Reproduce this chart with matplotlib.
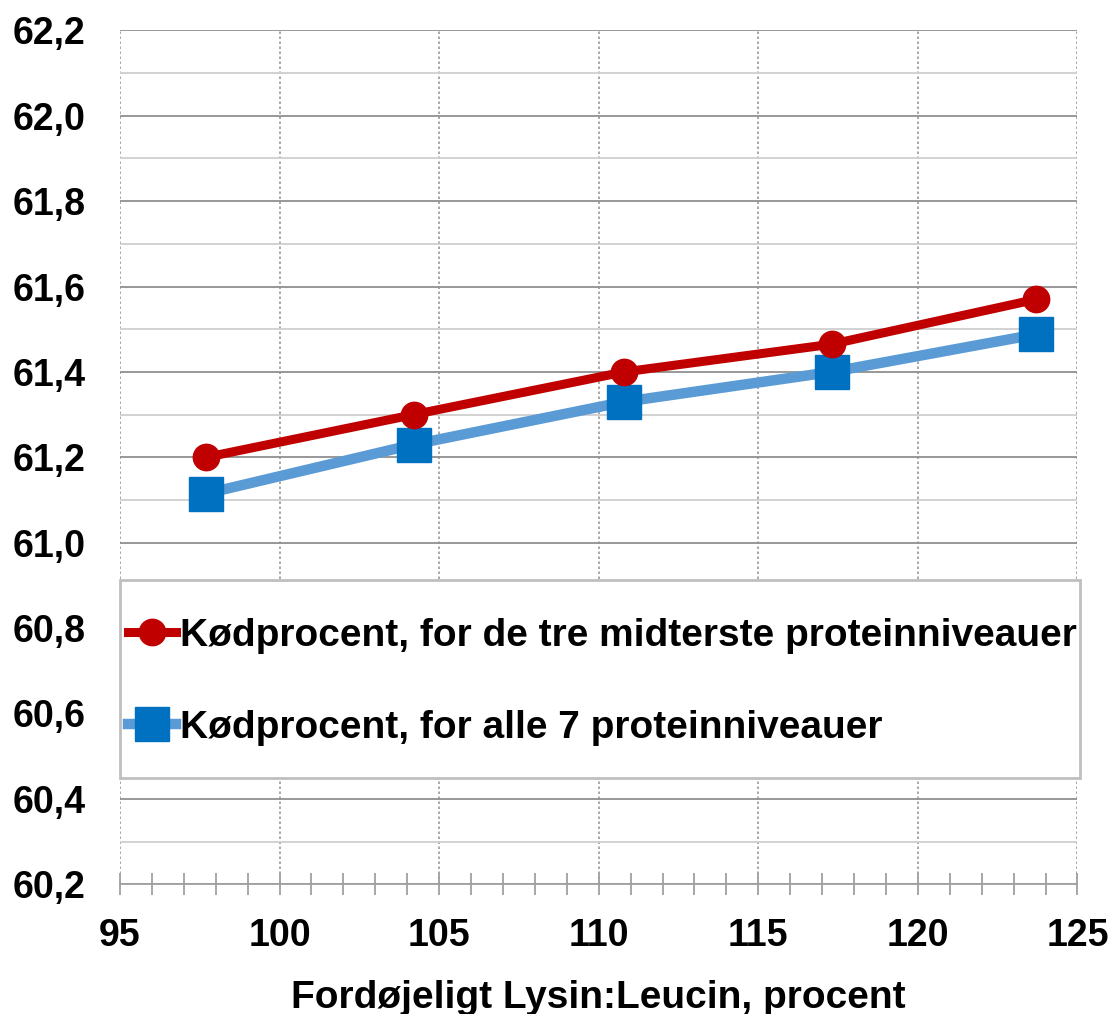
import numpy as np
import matplotlib.pyplot as plt
from matplotlib.patches import Rectangle
from matplotlib.ticker import MultipleLocator, FuncFormatter

plt.rcParams['font.family'] = ['Liberation Sans', 'DejaVu Sans']
plt.rcParams['font.weight'] = 'bold'

lys_leu = [97.7, 104.2, 110.8, 117.3, 123.7]
kod_tre = [61.20, 61.30, 61.40, 61.465, 61.57]
kod_alle = [61.115, 61.23, 61.33, 61.40, 61.488]

label_tre = 'Kødprocent, for de tre midterste proteinniveauer'
label_alle = 'Kødprocent, for alle 7 proteinniveauer'

fig = plt.figure(figsize=(11.15, 10.14), dpi=100)
ax = fig.add_axes([0.1076, 0.128, 0.8587, 0.842])

ax.plot(lys_leu, kod_tre, color='#C00000', lw=6.5, marker='o', ms=19,
        mfc='#C00000', mec='#C00000', label=label_tre, zorder=4)
ax.plot(lys_leu, kod_alle, color='#5B9BD5', lw=7.5, marker='s', ms=24,
        mfc='#0070C0', mec='#0070C0', label=label_alle, zorder=3)

ax.set_xlim(95, 125)
ax.set_ylim(60.2, 62.2)
ax.xaxis.set_major_locator(MultipleLocator(5))
ax.xaxis.set_minor_locator(MultipleLocator(1))
ax.yaxis.set_major_locator(MultipleLocator(0.2))
ax.yaxis.set_minor_locator(MultipleLocator(0.1))
ax.yaxis.set_major_formatter(FuncFormatter(lambda v, p: f'{v:.1f}'.replace('.', ',')))

ax.grid(axis='x', which='major', color='#999999', ls=(0, (1.5, 1.5)), lw=1.2)
ax.grid(axis='y', which='major', color='#909090', ls='-', lw=1.3)
ax.grid(axis='y', which='minor', color='#cfcfcf', ls='-', lw=1.3)
ax.set_axisbelow(True)

for s in ['top', 'right', 'left']:
    ax.spines[s].set_visible(False)
ax.spines['bottom'].set_color('#a0a0a0')
ax.spines['bottom'].set_linewidth(1.3)

ax.tick_params(axis='x', which='both', direction='inout', color='#a0a0a0',
               length=16, width=1.3, labelsize=27, pad=16)
ax.tick_params(axis='y', which='both', length=0, labelsize=27, pad=25)
for t in ax.get_xticklabels() + ax.get_yticklabels():
    t.set_fontweight('bold')

ax.set_xlabel('Fordøjeligt Lysin:Leucin, procent', fontsize=28,
              fontweight='bold', labelpad=19)

# legend box: white panel with grey border over the lower grid
box = Rectangle((0.0, 0.124), 1.003, 0.232, transform=ax.transAxes,
                facecolor='white', edgecolor='#bfbfbf', lw=2,
                clip_on=False, zorder=5)
ax.add_patch(box)
leg = ax.legend(loc='center left', bbox_to_anchor=(0.0, 0.237),
                frameon=False, handlelength=1.25, handletextpad=0.1,
                borderpad=0.2, labelspacing=1.45,
                prop={'weight': 'bold', 'size': 28}, borderaxespad=0)
leg.set_zorder(6)

fig.savefig('out.png', dpi=100)
